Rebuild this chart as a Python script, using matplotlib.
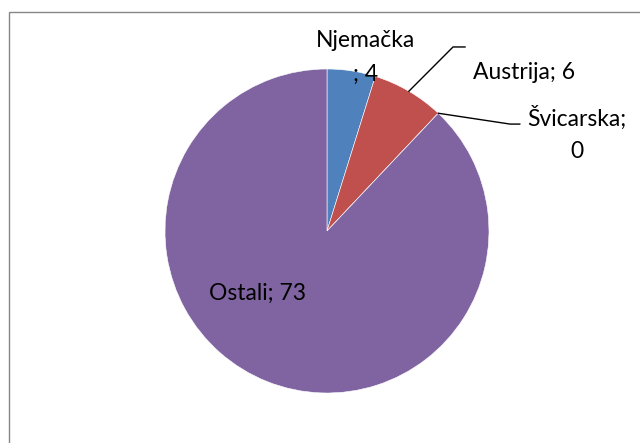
import matplotlib.pyplot as plt
import matplotlib.patches as patches
import numpy as np

# Podaci
drzave = ['Njemačka', 'Austrija', 'Švicarska', 'Ostali']
vrijednosti = [4, 6, 0, 73]
boje = ['#4F81BD', '#C0504D', '#9BBB59', '#8064A2']

plt.rcParams['font.family'] = ['Lato', 'DejaVu Sans']

fig = plt.figure(figsize=(6.4, 4.43), dpi=100)
ax = fig.add_axes([165 / 640, 50 / 443, 324 / 640, 324 / 443])

wedges, _ = ax.pie(vrijednosti, colors=boje, startangle=90, counterclock=False,
                   radius=1, wedgeprops=dict(edgecolor='white', linewidth=0.4))
ax.set_xlim(-1, 1)
ax.set_ylim(-1, 1)
ax.set_aspect('equal')
ax.axis('off')

fs = 16.5
labele = [f'{d}; {v}' for d, v in zip(drzave, vrijednosti)]

# Njemačka - iznad isječka
ax.text(0.235, 1.07, 'Njemačka\n; 4', ha='center', va='center', fontsize=fs,
        linespacing=1.75, clip_on=False)

# Austrija - s vodilicom
w = wedges[1]
kut = np.deg2rad((w.theta1 + w.theta2) / 2)
p0 = (np.cos(kut), np.sin(kut))
ax.plot([p0[0], 0.778, 0.852], [p0[1], 1.136, 1.136], color='black', lw=1,
        clip_on=False)
ax.text(1.215, 0.98, labele[1], ha='center', va='center', fontsize=fs, clip_on=False)

# Švicarska - s vodilicom
w = wedges[2]
kut = np.deg2rad((w.theta1 + w.theta2) / 2)
p0 = (np.cos(kut), np.sin(kut))
ax.plot([p0[0], 1.13, 1.19], [p0[1], 0.66, 0.66], color='black', lw=1,
        clip_on=False)
ax.text(1.54, 0.60, 'Švicarska;\n0', ha='center', va='center', fontsize=fs,
        linespacing=1.65, clip_on=False)

# Ostali - unutar isječka
ax.text(-0.426, -0.383, labele[3], ha='center', va='center', fontsize=fs)

# Okvir grafikona
okvir = patches.Rectangle((9 / 640, -0.1), 1.2, 431 / 443 + 0.1,
                          transform=fig.transFigure, fill=False,
                          edgecolor='#868686', linewidth=1)
fig.patches.append(okvir)

plt.savefig('out.png', dpi=100)
